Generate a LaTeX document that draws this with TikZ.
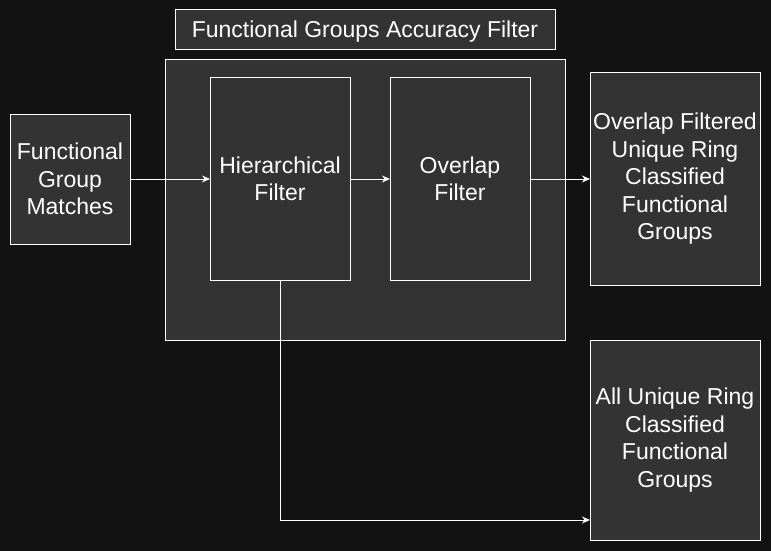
\documentclass[tikz,border=0pt]{standalone}
\usepackage{fontspec}
\setmainfont{Liberation Sans}
\usetikzlibrary{arrows.meta}
\definecolor{bg}{HTML}{121212}
\definecolor{boxfill}{HTML}{333333}
\begin{document}
\begin{tikzpicture}[x=1pt,y=-1pt,
  box/.style={draw=white, fill=boxfill, line width=1pt, text=white, align=center,
    font=\fontsize{23}{27.5}\selectfont, inner sep=0pt, outer sep=0pt},
  arr/.style={draw=white, line width=1pt, -{Stealth[length=8pt,width=7pt]}}]
\fill[bg] (0,0) rectangle (771,551);
\useasboundingbox (0,0) rectangle (771,551);
\node[box, minimum width=380pt, minimum height=40pt, text depth=2pt] (title) at (365,30) {Functional Groups Accuracy Filter};
\node[box, minimum width=400pt, minimum height=280pt] (cont) at (365,200) {};
\node[box, minimum width=140pt, minimum height=203pt] (hier) at (280,179) {Hierarchical\\Filter};
\node[box, minimum width=140pt, minimum height=203pt] (ovl) at (460,179) {Overlap\\Filter};
\node[box, minimum width=120pt, minimum height=130pt] (fgm) at (70,179) {Functional\\Group\\Matches};
\node[box, minimum width=170pt, minimum height=212pt] (out1) at (675,179) {Overlap Filtered\\Unique Ring\\Classified\\Functional\\Groups};
\node[box, minimum width=170pt, minimum height=200pt] (out2) at (675,440) {All Unique Ring\\Classified\\Functional\\Groups};
\coordinate (e2) at (590,520);
\draw[arr] (fgm.east) -- (hier.west);
\draw[arr] (hier.east) -- (ovl.west);
\draw[arr] (ovl.east) -- (out1.west);
\draw[arr] (hier.south) |- (e2);
\end{tikzpicture}
\end{document}
